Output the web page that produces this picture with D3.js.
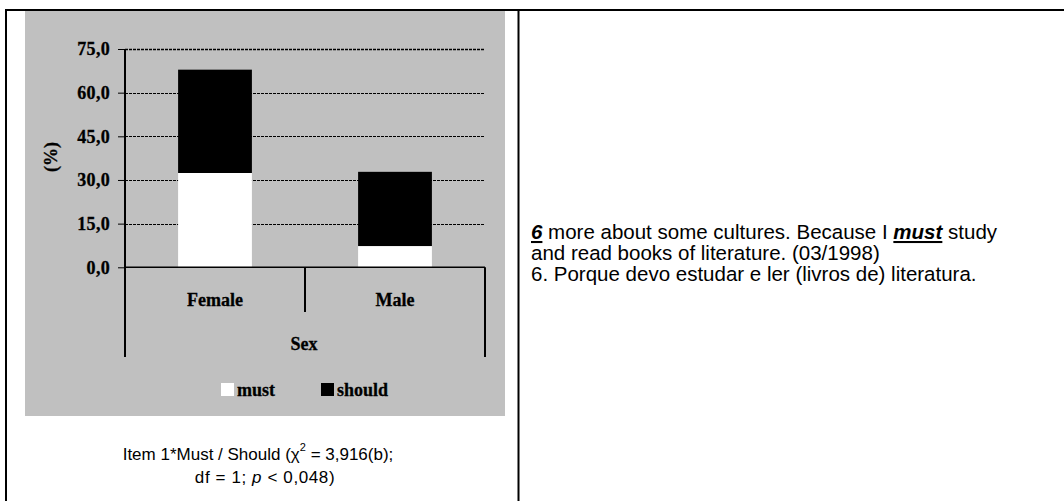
<!DOCTYPE html>
<html>
<head>
<meta charset="utf-8">
<script src="https://cdn.jsdelivr.net/npm/d3@7"></script>
<style>
  body { margin: 0; background: #fff; }
  svg { display: block; }
</style>
</head>
<body>
<div class="chart"></div>
<script>
// data
const categories = ["Female", "Male"];
const mustValues = [32.4, 7.3];
const shouldValues = [35.5, 25.5];
const yTicks = [0, 15, 30, 45, 60, 75];
const seriesNames = ["must", "should"];
const seriesColors = ["#ffffff", "#000000"];

const W = 1064, H = 501;
const plot = {left: 125, right: 485, top: 49, bottom: 267.3};
const serifBold = "bold 18px 'Liberation Serif', 'Times New Roman', serif";

const svg = d3.select(".chart")
  .append("svg")
    .attr("width", W)
    .attr("height", H);

// table borders
svg.append("rect")
  .attr("x", 6).attr("y", 10)
  .attr("width", 1070).attr("height", 520)
  .attr("fill", "none")
  .attr("stroke", "#000")
  .attr("stroke-width", 2);
svg.append("line")
  .attr("x1", 518.5).attr("x2", 518.5)
  .attr("y1", 10).attr("y2", H)
  .attr("stroke", "#000")
  .attr("stroke-width", 2);

// gray chart area
svg.append("rect")
  .attr("x", 25).attr("y", 11)
  .attr("width", 480).attr("height", 405)
  .attr("fill", "#c0c0c0");

const x = d3.scaleBand()
  .domain(categories)
  .range([plot.left, plot.right])
  .paddingInner(0.59)
  .paddingOuter(0.295);

const y = d3.scaleLinear()
  .domain([0, 75])
  .range([plot.bottom, plot.top]);

// gridlines
svg.append("g")
  .selectAll("line")
  .data(yTicks.filter(d => d > 0))
  .join("line")
    .attr("x1", plot.left)
    .attr("x2", plot.right)
    .attr("y1", d => Math.round(y(d)) + 0.5)
    .attr("y2", d => Math.round(y(d)) + 0.5)
    .attr("stroke", "#000")
    .attr("stroke-width", d => d == 75 ? 1.6 : 1)
    .attr("stroke-dasharray", "3,1");

// stacked bars
const rows = categories.map((c, i) => ({key: c, must: mustValues[i], should: shouldValues[i]}));
const stacked = d3.stack().keys(seriesNames)(rows);
const color = d3.scaleOrdinal().domain(seriesNames).range(seriesColors);

svg.append("g")
  .selectAll("g")
  .data(stacked)
  .join("g")
    .attr("fill", d => color(d.key))
  .selectAll("rect")
  .data(d => d)
  .join("rect")
    .attr("x", d => x(d.data.key))
    .attr("y", d => y(d[1]))
    .attr("width", x.bandwidth())
    .attr("height", d => y(d[0]) - y(d[1]));

// y axis
const yAxis = svg.append("g")
  .attr("transform", "translate(" + plot.left + ",0)")
  .call(d3.axisLeft(y)
    .tickValues(yTicks)
    .tickSize(7)
    .tickSizeOuter(0)
    .tickPadding(8)
    .tickFormat(d => d3.format(".1f")(d).replace(".", ",")));
yAxis.select(".domain").remove();
yAxis.selectAll("line").attr("stroke", "#000").attr("stroke-width", 1);
yAxis.selectAll("text")
  .style("font", serifBold)
  .style("letter-spacing", "0.3px")
  .attr("fill", "#000")
  .attr("stroke", "#000")
  .attr("stroke-width", 0.3);

svg.append("line")
  .attr("x1", plot.left).attr("x2", plot.left)
  .attr("y1", plot.top).attr("y2", 357)
  .attr("stroke", "#000").attr("stroke-width", 2);

// baseline
svg.append("line")
  .attr("x1", plot.left).attr("x2", plot.right)
  .attr("y1", y(0)).attr("y2", y(0))
  .attr("stroke", "#000").attr("stroke-width", 1.5);

// category separators
const step = x.step();
svg.append("g")
  .selectAll("line")
  .data([0, 1, 2])
  .join("line")
    .attr("x1", i => plot.left + i * step)
    .attr("x2", i => plot.left + i * step)
    .attr("y1", y(0))
    .attr("y2", i => i == 1 ? 312 : 357)
    .attr("stroke", "#000")
    .attr("stroke-width", 2);

const labels = svg.append("g")
  .style("font", serifBold)
  .attr("stroke", "#000")
  .attr("stroke-width", 0.3);

labels.selectAll("text.cat")
  .data(categories)
  .join("text")
    .attr("class", "cat")
    .attr("x", d => x(d) + x.bandwidth() / 2)
    .attr("y", 306)
    .attr("text-anchor", "middle")
    .text(d => d);

labels.append("text")
  .attr("x", 304)
  .attr("y", 350)
  .attr("text-anchor", "middle")
  .text("Sex");

labels.append("text")
  .attr("transform", "translate(57,157) rotate(-90)")
  .attr("text-anchor", "middle")
  .text("(%)");

// legend
const legendX = [221, 321];
const legend = labels.append("g")
  .selectAll("g")
  .data(seriesNames)
  .join("g")
    .attr("transform", (d, i) => "translate(" + legendX[i] + ",383)");
legend.append("rect")
  .attr("width", 13).attr("height", 13)
  .attr("stroke", "none")
  .attr("fill", d => color(d));
legend.append("text")
  .attr("x", 16)
  .attr("y", 12.5)
  .text(d => d);

// caption under the chart
const cap = svg.append("g")
  .style("font", "17px 'Liberation Sans', Arial, sans-serif")
  .attr("fill", "#000");
const line1 = cap.append("text")
  .attr("x", 258).attr("y", 460)
  .attr("text-anchor", "middle");
line1.append("tspan").text("Item 1*Must / Should (χ");
line1.append("tspan").attr("dy", -9).style("font-size", "11px").text("2");
line1.append("tspan").attr("dy", 9).text(" = 3,916(b);");
const line2 = cap.append("text")
  .attr("x", 265).attr("y", 483)
  .attr("text-anchor", "middle")
  .style("letter-spacing", "0.6px");
line2.append("tspan").text("df = 1; ");
line2.append("tspan").style("font-style", "italic").text("p");
line2.append("tspan").text(" < 0,048)");

// quote text on the right
const quote = svg.append("g")
  .style("font", "20.5px 'Liberation Sans', Arial, sans-serif")
  .attr("fill", "#000");
const q1 = quote.append("text").attr("x", 531).attr("y", 239);
q1.append("tspan").style("font-weight", "bold").style("font-style", "italic")
  .attr("text-decoration", "underline").text("6");
q1.append("tspan").text(" more about some cultures. Because I ");
q1.append("tspan").style("font-weight", "bold").style("font-style", "italic")
  .attr("text-decoration", "underline").text("must");
q1.append("tspan").text(" study");
quote.append("text").attr("x", 531).attr("y", 260)
  .text("and read books of literature. (03/1998)");
quote.append("text").attr("x", 531).attr("y", 281)
  .text("6. Porque devo estudar e ler (livros de) literatura.");
</script>
</body>
</html>
